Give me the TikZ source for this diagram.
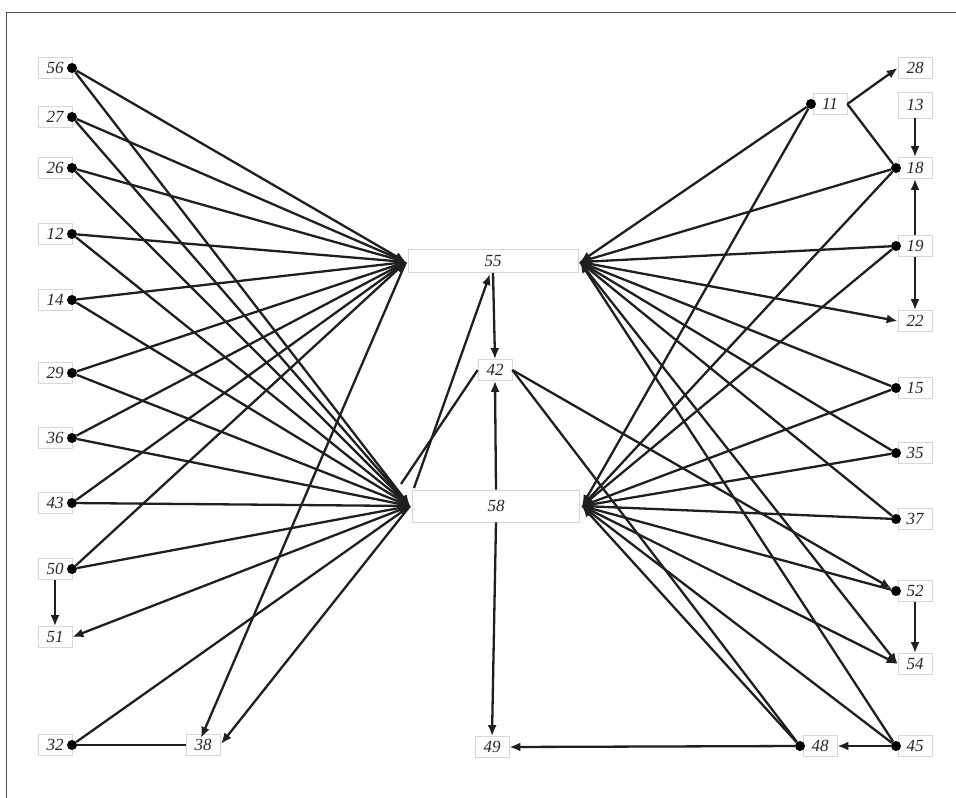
\documentclass[tikz,border=0pt]{standalone}
\usepackage{fontspec}
\setmainfont{Liberation Serif}
\usetikzlibrary{arrows.meta}
\begin{document}
\begin{tikzpicture}[x=1pt,y=-1pt,
  lbl/.style={draw=black!16, line width=0.7pt, minimum width=34pt, minimum height=21pt, inner sep=0pt, text=black!85, font=\fontsize{17}{17}\selectfont\itshape},
  hubbox/.style={lbl, minimum width=#1},
  dotn/.style={circle, fill=black, inner sep=0pt, minimum size=10pt},
  edge/.style={line width=2.3pt, black!88},
  arr/.style={edge, -{Latex[length=11pt,width=9pt]}},
  frame/.style={draw=black!70, line width=1pt}]
\useasboundingbox (0,0) rectangle (956,798);
\draw[frame] (6,798) -- (6,12) -- (956,12);

% ---- left column
\foreach \n/\y in {56/68,27/117,26/168,12/234,14/300,29/373,36/438,43/503,50/569,32/745}{
  \node[lbl] (l\n) at (55,\y) {\n};
  \node[dotn] (d\n) at (72,\y) {};
}
\node[lbl] (l51) at (55,637) {51};
\node[lbl] (l38) at (203,745) {38};

% ---- centre
\node[hubbox=170pt, minimum height=23pt] (l55) at (493,261) {55};
\node[lbl] (l42) at (495,370) {42};
\node[hubbox=167pt, minimum height=32pt] (l58) at (496,506) {58};
\node[lbl] (l49) at (492,747) {49};
\coordinate (a55) at (406,262);
\coordinate (b55) at (580,262);
\coordinate (a58) at (410,506);
\coordinate (b58) at (582,506);
\coordinate (s1) at (414,488);
\coordinate (t55) at (490,274);
\coordinate (s2) at (401,484);
\coordinate (t38a) at (201,738);
\coordinate (t38b) at (221,744);

% ---- right column
\foreach \n/\y in {18/168,19/246,15/388,35/453,37/519,52/591,45/746}{
  \node[lbl] (l\n) at (915,\y) {\n};
  \node[dotn] (d\n) at (896,\y) {};
}
\node[lbl] (l28) at (915,68) {28};
\node[lbl, minimum height=26pt] (l13) at (915,105) {13};
\node[lbl] (l22) at (915,321) {22};
\node[lbl] (l54) at (915,664) {54};
\node[lbl] (l11) at (830,104) {11};
\node[dotn] (d11) at (811,104) {};
\node[lbl] (l48) at (820,746) {48};
\node[dotn] (d48) at (800,746) {};

% ---- left edges
\foreach \n in {56,27,26,12,14,29,36,43,50}{
  \draw[arr] (d\n) -- (a55);
  \draw[arr] (d\n) -- (a58);
}
\draw[arr] (a58) -- (l51.east);
\draw[arr] (l50.south) -- (l51.north);
\draw[arr] (d32) -- (a58);
\draw[edge] (d32) -- (l38.west);
\draw[arr] (a55) -- (t38a);
\draw[arr] (a58) -- (t38b);

% ---- centre edges
\draw[arr] (l55.south) -- (l42.north);
\draw[arr] (l58.north) -- (l42.south);
\draw[arr] (l58.south) -- (l49.north);
\draw[arr] (s1) -- (t55);
\draw[edge] (s2) -- (l42.west);
\draw[arr] (l42.east) -- (d52);
\draw[edge] (l42.east) -- (d48);

% ---- right edges
\foreach \n in {11,18,19,15,35,37,45}{
  \draw[arr] (d\n) -- (b55);
  \draw[arr] (d\n) -- (b58);
}
\draw[arr] (d52) -- (b58);
\draw[arr] (d48) -- (b58);
\draw[arr] (b55) -- (l22.west);
\draw[arr] (b55) -- (l54.west);
\draw[arr] (b58) -- (l54.west);
\draw[arr] (d45) -- (l48.east);
\draw[arr] (d48) -- (l49.east);
\draw[arr] (l11.east) -- (l28.west);
\draw[edge] (d18) -- (l11.east);
\draw[arr] (l13.south) -- (l18.north);
\draw[arr] (l19.north) -- (l18.south);
\draw[arr] (l19.south) -- (l22.north);
\draw[arr] (l52.south) -- (l54.north);
\end{tikzpicture}
\end{document}
